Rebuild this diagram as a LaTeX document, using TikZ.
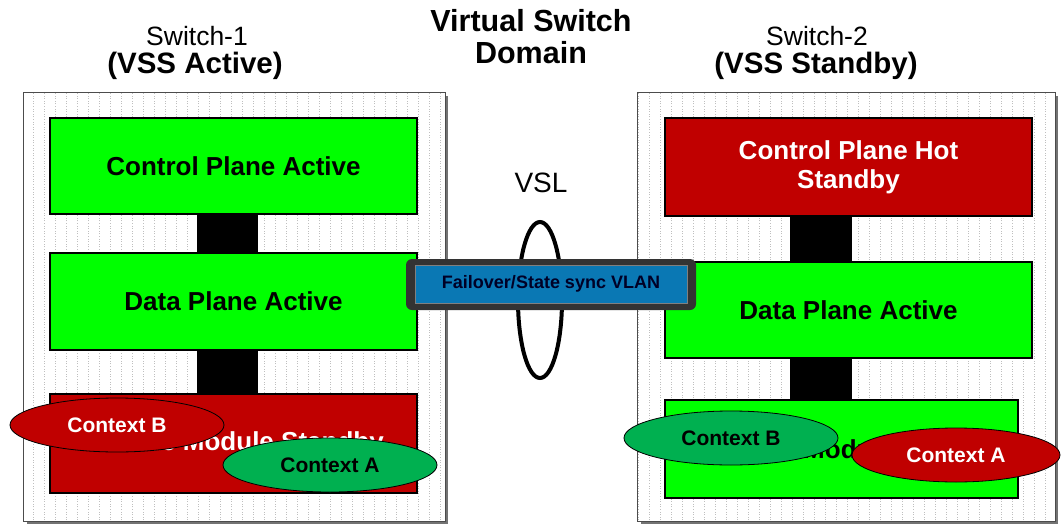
\documentclass[tikz,border=0pt]{standalone}
\usepackage{fontspec}
\setmainfont{Liberation Sans}
\usetikzlibrary{shapes.geometric,calc}
\definecolor{bgreen}{HTML}{00FF00}
\definecolor{bred}{HTML}{C00000}
\definecolor{egreen}{HTML}{00B050}
\definecolor{vblue}{HTML}{0A78B4}
\tikzset{
  outerbox/.style={draw=black!70, line width=0.8pt, fill=white},
  plane/.style={draw=black, line width=2pt, inner sep=0pt, align=center,
    font=\fontsize{26}{29}\selectfont\bfseries},
  greenplane/.style={plane, fill=bgreen, text=black},
  redplane/.style={plane, fill=bred, text=white},
  ctx/.style={ellipse, draw=black, line width=0.8pt, inner sep=0pt,
    minimum width=214pt, minimum height=54pt,
    font=\fontsize{21}{24}\selectfont\bfseries},
  ctxred/.style={ctx, fill=bred, text=white},
  ctxgreen/.style={ctx, fill=egreen, text=black},
  link/.style={fill=black},
  ttl/.style={font=\fontsize{26.5}{30}\selectfont},
  ttlb/.style={font=\fontsize{29.5}{32}\selectfont\bfseries},
}
\begin{document}
\begin{tikzpicture}[x=1pt,y=-1pt]
\useasboundingbox (0,0) rectangle (1061,525);
\fill[white] (0,0) rectangle (1061,525);
% outer switch boxes with shadow and grid
\foreach \xa/\xb in {23/445, 637/1055}{
  \fill[black!55] (\xa+4,96) rectangle (\xb+3,524);
  \draw[outerbox] (\xa,92) rectangle (\xb,521);
  \draw[black!25, dotted, line width=0.6pt, step=11] (\xa+1,93) grid (\xb-1,520);
}
% titles
\node[ttl]  (s1a) at (197,36) {Switch-1};
\node[ttlb] (s1b) at (195,66) {(VSS Active)};
\node[ttlb, font=\fontsize{30.5}{32}\selectfont\bfseries] (vda) at (531,21) {Virtual Switch};
\node[ttlb, font=\fontsize{30.5}{32}\selectfont\bfseries] (vdb) at (531,53) {Domain};
\node[ttl]  (s2a) at (817,36) {Switch-2};
\node[ttlb] (s2b) at (816,66) {(VSS Standby)};
% left switch planes
\node[greenplane, minimum width=367pt, minimum height=96pt] (c1) at (233.5,166) {Control Plane Active};
\node[greenplane, minimum width=367pt, minimum height=97pt] (d1) at (233.5,301.5) {Data Plane Active};
\node[redplane, minimum width=367pt, minimum height=99pt] (m1) at (233.5,443.5) {Service Module Standby};
% right switch planes
\node[redplane, minimum width=367pt, minimum height=98pt] (c2) at (848.5,167) {Control Plane Hot\\Standby};
\node[greenplane, minimum width=367pt, minimum height=96pt] (d2) at (848.5,310) {Data Plane Active};
\node[greenplane, minimum width=353pt, minimum height=98pt] (m2) at (841.5,449) {Service Module Active};
% black connectors between planes
\coordinate (l1) at (197,0); \coordinate (r1) at (258,0);
\coordinate (l2) at (790,0); \coordinate (r2) at (852,0);
\fill[link] (l1 |- c1.south) rectangle (r1 |- d1.north);
\fill[link] (l1 |- d1.south) rectangle (r1 |- m1.north);
\fill[link] (l2 |- c2.south) rectangle (r2 |- d2.north);
\fill[link] (l2 |- d2.south) rectangle (r2 |- m2.north);
% VSL
\node[font=\fontsize{28}{30}\selectfont] (vsl) at (541,183) {VSL};
\node[ellipse, draw=black, line width=4pt, minimum width=44pt, minimum height=156pt] (ring) at (540,300) {};
% failover bar
\fill[black!80, rounded corners=6pt] (406,259) rectangle (696,310);
\node[fill=vblue, draw=black!50, line width=0.5pt, minimum width=272pt, minimum height=38pt, inner sep=0pt,
  text=black!85!blue, font=\fontsize{18}{20}\selectfont\bfseries] (vlan) at (551,284) {Failover/State sync VLAN};
% contexts
\node[ctxred]   (b1) at (117,425) {Context B};
\node[ctxgreen] (a1) at (330,465) {Context A};
\node[ctxgreen] (b2) at (731,438) {Context B};
\node[ctxred, minimum width=208pt] (a2) at (956,455) {Context A};
\end{tikzpicture}
\end{document}
